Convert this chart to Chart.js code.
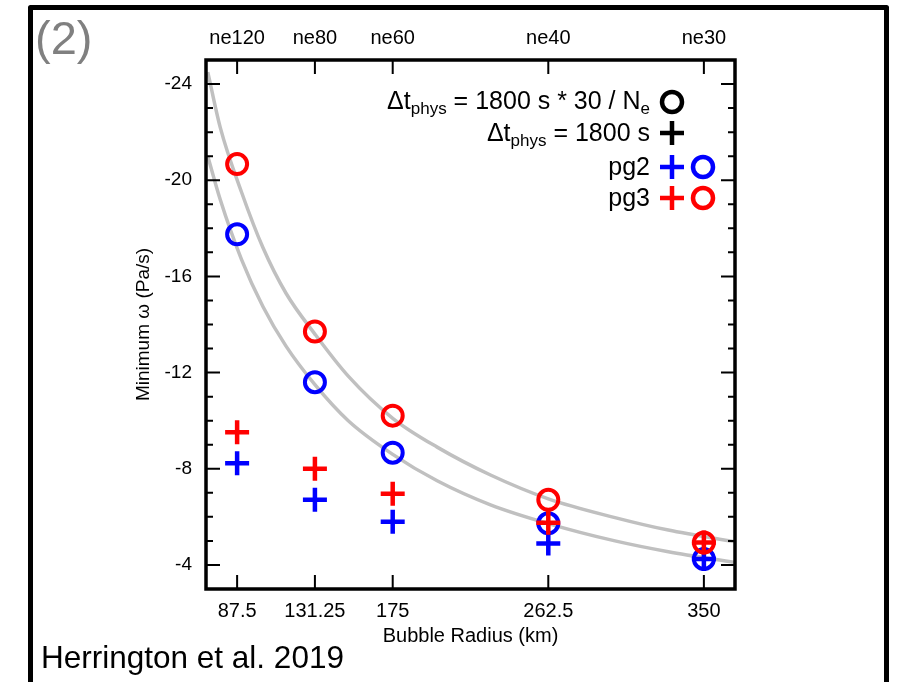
<!DOCTYPE html>
<html>
<head>
<meta charset="utf-8">
<script src="https://cdn.jsdelivr.net/npm/chart.js@4.4.1/dist/chart.umd.min.js"></script>
<style>
  html, body { margin: 0; padding: 0; background: #fff; }
  #wrap { position: relative; width: 899px; height: 682px; }
</style>
</head>
<body>
<div id="wrap"><canvas id="chart" width="899" height="682"></canvas></div>
<script>
// bubble radius (km) and the grid name for each one (top axis)
const radii = [87.5, 131.25, 175, 262.5, 350];
const gridNames = ['ne120', 'ne80', 'ne60', 'ne40', 'ne30'];
const yTicks = [-24, -20, -16, -12, -8, -4];

// minimum omega (Pa/s) with dt_phys = 1800 s * 30 / Ne  (circles)
const pg2Scaled = [-17.75, -11.6, -8.67, -5.73, -4.25];
const pg3Scaled = [-20.67, -13.71, -10.21, -6.71, -4.93];
// minimum omega (Pa/s) with dt_phys = 1800 s  (crosses)
const pg2Fixed = [-8.23, -6.71, -5.8, -4.89, -4.25];
const pg3Fixed = [-9.52, -8.0, -6.96, -5.76, -4.93];

// grey guide curves
const curveX = [71, 78, 90, 102, 115, 131.25, 150, 175, 200, 230, 262.5, 300, 330, 367.5];
const curveUpper = [-24.5, -22.2, -19.5, -17.2, -15.3, -13.6, -11.85, -10.1, -8.9, -7.74, -6.75, -5.97, -5.45, -4.96];
const curveLower = [-21.0, -19.2, -16.7, -14.75, -13.1, -11.5, -10.0, -8.6, -7.5, -6.5, -5.72, -5.0, -4.55, -4.1];

const FONT = "'Liberation Sans', Arial, Helvetica, sans-serif";
const RED = '#ff0000';
const BLUE = '#0000ff';

function points(xs, ys) {
    return xs.map((x, i) => ({ x: x, y: ys[i] }));
}

function curve(ys) {
    return {
        data: points(curveX, ys),
        showLine: true,
        borderColor: '#c0c0c0',
        borderWidth: 3.5,
        pointRadius: 0,
        cubicInterpolationMode: 'monotone',
        order: 10
    };
}

function markers(ys, color, style, order) {
    return {
        data: points(radii, ys),
        showLine: false,
        pointStyle: style,
        pointRadius: style === 'cross' ? 12 : 10,
        pointBorderWidth: style === 'cross' ? 4.5 : 4,
        borderColor: color,
        backgroundColor: 'rgba(0,0,0,0)',
        pointBackgroundColor: 'rgba(0,0,0,0)',
        clip: false,
        order: order
    };
}

// draws text made of pieces (normal / subscript), right aligned at x
function richText(ctx, parts, right, baseline) {
    let total = 0;
    parts.forEach(p => {
        ctx.font = p.sub ? `17px ${FONT}` : `25px ${FONT}`;
        total += ctx.measureText(p.t).width;
    });
    let x = right - total;
    parts.forEach(p => {
        ctx.font = p.sub ? `17px ${FONT}` : `25px ${FONT}`;
        ctx.fillText(p.t, x, p.sub ? baseline + 5 : baseline);
        x += ctx.measureText(p.t).width;
    });
}

function drawCircle(ctx, x, y, color) {
    ctx.beginPath();
    ctx.strokeStyle = color;
    ctx.lineWidth = 4.5;
    ctx.arc(x, y, 10, 0, Math.PI * 2);
    ctx.stroke();
}

function drawCross(ctx, x, y, color) {
    ctx.beginPath();
    ctx.strokeStyle = color;
    ctx.lineWidth = 4.5;
    ctx.moveTo(x - 12, y); ctx.lineTo(x + 12, y);
    ctx.moveTo(x, y - 12); ctx.lineTo(x, y + 12);
    ctx.stroke();
}

const decorations = {
    id: 'decorations',
    beforeDraw(chart) {
        const ctx = chart.ctx;
        ctx.save();
        ctx.fillStyle = '#fff';
        ctx.fillRect(0, 0, chart.width, chart.height);
        ctx.restore();
    },
    afterDraw(chart) {
        const { ctx, chartArea: a, scales } = chart;
        ctx.save();

        // plot box
        ctx.strokeStyle = '#000';
        ctx.lineWidth = 3.5;
        ctx.lineJoin = 'miter';
        ctx.strokeRect(a.left, a.top, a.right - a.left, a.bottom - a.top);

        // inward tick marks
        ctx.lineWidth = 2;
        ctx.beginPath();
        radii.forEach(v => {
            const px = scales.x.getPixelForValue(v);
            ctx.moveTo(px, a.bottom); ctx.lineTo(px, a.bottom - 14);
            ctx.moveTo(px, a.top); ctx.lineTo(px, a.top + 14);
        });
        for (let v = -24; v <= -4; v++) {
            const py = scales.y.getPixelForValue(v);
            const len = v % 4 === 0 ? 14 : 7;
            ctx.moveTo(a.left, py); ctx.lineTo(a.left + len, py);
            ctx.moveTo(a.right, py); ctx.lineTo(a.right - len, py);
        }
        ctx.stroke();

        // legend
        ctx.fillStyle = '#000';
        ctx.textBaseline = 'alphabetic';
        ctx.textAlign = 'left';
        richText(ctx, [{ t: '\u0394t' }, { t: 'phys', sub: true }, { t: ' = 1800 s * 30 / N' }, { t: 'e', sub: true }], 650, 109);
        richText(ctx, [{ t: '\u0394t' }, { t: 'phys', sub: true }, { t: ' = 1800 s' }], 650, 141);
        richText(ctx, [{ t: 'pg2' }], 650, 175);
        richText(ctx, [{ t: 'pg3' }], 650, 206);
        drawCircle(ctx, 672, 102, '#000');
        drawCross(ctx, 672, 133, '#000');
        drawCross(ctx, 672, 167, BLUE);
        drawCircle(ctx, 703, 167, BLUE);
        drawCross(ctx, 672, 198, RED);
        drawCircle(ctx, 703, 198, RED);

        // outer panel frame
        ctx.strokeStyle = '#000';
        ctx.lineWidth = 5;
        ctx.lineJoin = 'round';
        ctx.strokeRect(30.5, 7.5, 856, 700);

        // panel label and citation
        ctx.fillStyle = '#808080';
        ctx.font = `47px ${FONT}`;
        ctx.fillText('(2)', 35, 54);
        ctx.fillStyle = '#000';
        ctx.font = `31.5px ${FONT}`;
        ctx.fillText('Herrington et al. 2019', 41, 668);

        ctx.restore();
    }
};

const ctx = document.getElementById('chart').getContext('2d');

new Chart(ctx, {
    type: 'scatter',
    data: {
        datasets: [
            curve(curveUpper),
            curve(curveLower),
            markers(pg2Scaled, BLUE, 'circle', 5),
            markers(pg2Fixed, BLUE, 'cross', 4),
            markers(pg3Scaled, RED, 'circle', 3),
            markers(pg3Fixed, RED, 'cross', 2)
        ]
    },
    options: {
        responsive: false,
        animation: false,
        layout: { padding: { left: 0, right: 164, top: 0, bottom: 0 } },
        plugins: {
            legend: { display: false },
            tooltip: { enabled: false }
        },
        scales: {
            x: {
                type: 'linear',
                position: 'bottom',
                min: 70,
                max: 367.5,
                afterBuildTicks: s => { s.ticks = radii.map(v => ({ value: v })); },
                afterFit: s => { s.height = 93; },
                grid: { display: false, drawTicks: false },
                border: { display: false },
                ticks: {
                    color: '#000',
                    padding: 10,
                    font: { size: 20, family: FONT },
                    callback: v => String(v)
                },
                title: {
                    display: true,
                    text: 'Bubble Radius (km)',
                    color: '#000',
                    font: { size: 20, family: FONT },
                    padding: { top: 0, bottom: 34 }
                }
            },
            xTop: {
                type: 'linear',
                position: 'top',
                min: 70,
                max: 367.5,
                afterBuildTicks: s => { s.ticks = radii.map(v => ({ value: v })); },
                afterFit: s => { s.height = 60; },
                grid: { display: false, drawTicks: false },
                border: { display: false },
                ticks: {
                    color: '#000',
                    padding: 10,
                    font: { size: 20, family: FONT },
                    callback: v => gridNames[radii.indexOf(v)]
                }
            },
            y: {
                type: 'linear',
                reverse: true,
                min: -25,
                max: -3,
                afterBuildTicks: s => { s.ticks = yTicks.map(v => ({ value: v })); },
                afterFit: s => { s.width = 206; },
                grid: { display: false, drawTicks: false },
                border: { display: false },
                ticks: {
                    color: '#000',
                    padding: 14,
                    font: { size: 19, family: FONT },
                    callback: v => String(v)
                },
                title: {
                    display: true,
                    text: 'Minimum \u03c9 (Pa/s)',
                    color: '#000',
                    font: { size: 19, family: FONT },
                    padding: { top: 132, bottom: 0 }
                }
            }
        }
    },
    plugins: [decorations]
});
</script>
</body>
</html>
